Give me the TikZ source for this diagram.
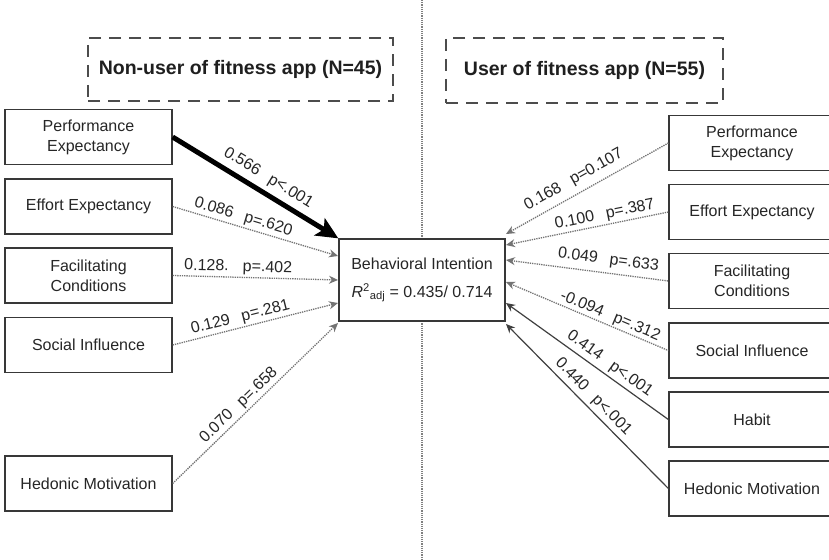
\documentclass[tikz,border=0pt]{standalone}
\usepackage{fontspec}
\setmainfont{Liberation Sans}
\usetikzlibrary{arrows.meta}
\begin{document}
\begin{tikzpicture}[x=1pt,y=-1pt,
  box/.style={draw=black!78, line width=1.3pt, fill=white, align=center,
    font=\fontsize{16}{20}\selectfont, text=black!85, inner sep=0pt,
    minimum height=55pt},
  lbox/.style={box, minimum width=167pt},
  rbox/.style={box, minimum width=166pt},
  titlebox/.style={draw=black!70, line width=1.3pt, dash pattern=on 12pt off 8pt,
    font=\fontsize{19.5}{23}\selectfont\bfseries, text=black!88, inner sep=0pt},
  dotarrow/.style={draw=black!55, line width=1.3pt, densely dotted,
    -{Stealth[length=9pt,width=8pt]}},
  solidarrow/.style={draw=black!75, line width=1.2pt,
    -{Stealth[length=9pt,width=8pt]}},
  thickarrow/.style={draw=black, line width=5pt,
    -{Stealth[length=22pt,width=20pt,inset=5pt]}},
  lab/.style={font=\fontsize{16}{19}\selectfont, text=black!85, inner sep=2pt, sloped, above}
]
\clip (0,0) rectangle (829,559);
\fill[white] (0,0) rectangle (829,559);

% divider
\coordinate (divtop) at (422,0);
\coordinate (divbot) at (422,559);
\draw[draw=black!50, line width=1.2pt, densely dotted] (divtop) -- (divbot);

% titles
\node[titlebox, minimum width=305pt, minimum height=63pt] (tl) at (240.5,69.5) {Non-user of fitness app (N=45)};
\node[titlebox, minimum width=277pt, minimum height=65pt] (tr) at (584.5,70.5) {User of fitness app (N=55)};

% central node
\node[box, minimum width=166pt, minimum height=82pt] (bi) at (422,280)
  {Behavioral Intention\\[8pt]\textit{R}\textsuperscript{2}\textsubscript{adj} = 0.435/ 0.714};

% left boxes
\node[lbox] (lpe) at (88.5,137) {Performance\\Expectancy};
\node[lbox] (lee) at (88.5,206.5) {Effort Expectancy};
\node[lbox] (lfc) at (88.5,275.5) {Facilitating\\Conditions};
\node[lbox] (lsi) at (88.5,345) {Social Influence};
\node[lbox] (lhm) at (88.5,483.5) {Hedonic Motivation};

% right boxes
\node[rbox] (rpe) at (752,143) {Performance\\Expectancy};
\node[rbox] (ree) at (752,212) {Effort Expectancy};
\node[rbox] (rfc) at (752,281) {Facilitating\\Conditions};
\node[rbox] (rsi) at (752,350.5) {Social Influence};
\node[rbox] (rha) at (752,419.5) {Habit};
\node[rbox] (rhm) at (752,488.5) {Hedonic Motivation};

% arrow end points on the central box
\coordinate (bee) at (338,256);
\coordinate (bfc) at (338,280);
\coordinate (bsi) at (338,303);
\coordinate (bhm) at (338,323);
\coordinate (rbpe) at (506,234);
\coordinate (rbee) at (506,245);
\coordinate (rbfc) at (506,260);
\coordinate (rbsi) at (506,282);
\coordinate (rbha) at (506,303);
\coordinate (rbhm) at (506,324);

% left connectors
\draw[thickarrow] (lpe.east) -- node[lab, pos=0.53, yshift=3pt] {0.566\hspace{12pt}p<.001} (bi.north west);
\draw[dotarrow] (lee.east) -- node[lab, pos=0.41] {0.086\hspace{12pt}p=.620} (bee);
\draw[dotarrow] (lfc.east) -- node[lab, pos=0.395] {0.128.\hspace{14pt}p=.402} (bfc);
\draw[dotarrow] (lsi.east) -- node[lab, pos=0.425] {0.129\hspace{12pt}p=.281} (bsi);
\draw[dotarrow] (lhm.east) -- node[lab, pos=0.443] {0.070\hspace{12pt}p=.658} (bhm);

% right connectors
\draw[dotarrow, {Stealth[length=9pt,width=8pt]}-] (rbpe) -- node[lab, pos=0.46, yshift=4pt] {0.168\hspace{12pt}p=0.107} (rpe.west);
\draw[dotarrow, {Stealth[length=9pt,width=8pt]}-] (rbee) -- node[lab, pos=0.62] {0.100\hspace{12pt}p=.387} (ree.west);
\draw[dotarrow, {Stealth[length=9pt,width=8pt]}-] (rbfc) -- node[lab, pos=0.62, yshift=3pt] {0.049\hspace{12pt}p=.633} (rfc.west);
\draw[dotarrow, {Stealth[length=9pt,width=8pt]}-] (rbsi) -- node[lab, pos=0.62, yshift=-1pt] {-0.094\hspace{12pt}p=.312} (rsi.west);
\draw[solidarrow, {Stealth[length=9pt,width=8pt]}-] (rbha) -- node[lab, pos=0.6, yshift=1pt] {0.414\hspace{12pt}p<.001} (rha.west);
\draw[solidarrow, {Stealth[length=9pt,width=8pt]}-] (rbhm) -- node[lab, pos=0.49, yshift=1pt] {0.440\hspace{12pt}p<.001} (rhm.west);
\end{tikzpicture}
\end{document}
